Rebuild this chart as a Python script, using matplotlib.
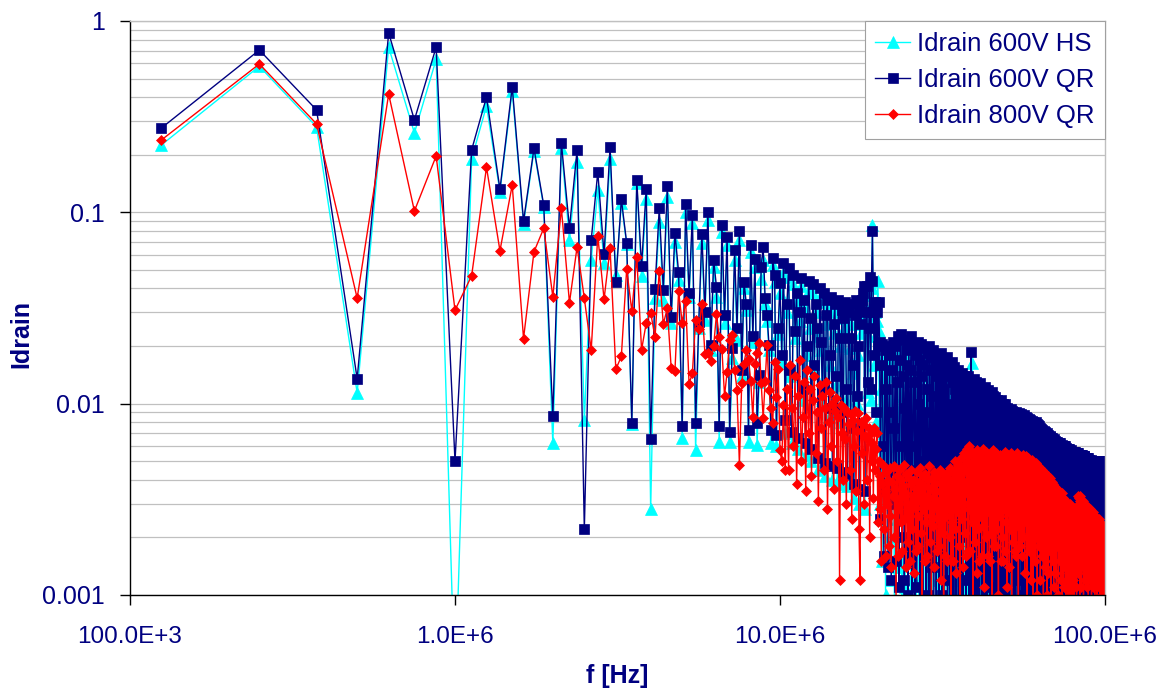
import numpy as np
import matplotlib
matplotlib.use("Agg")
import matplotlib.pyplot as plt
from matplotlib.ticker import FixedLocator, FixedFormatter, LogLocator, NullFormatter, NullLocator

# Drain current spectrum: one value per harmonic of the 125 kHz switching frequency.
FUNDAMENTAL_HZ = 125e3
AMP_UNIT = 1e-4  # the lists below are in units of 0.1 mA

idrain_600v_hs = [
    2250, 5800, 2800, 114, 7300, 2600, 6300, 3, 1900, 3600, 1280, 4300, 870, 2100, 1070, 62, 2170, 717, 1830, 82,
    563, 1310, 545, 1900, 470, 1120, 680, 78, 1420, 464, 1170, 28, 357, 891, 348, 1200, 264, 703, 443, 66,
    1000, 360, 878, 57, 250, 688, 273, 911, 190, 516, 362, 63, 790, 265, 675, 63, 173, 563, 216, 718,
    140, 400, 310, 63, 620, 210, 520, 61, 130, 450, 563, 330, 270, 190, 62, 530, 430, 60, 230, 380,
    165, 480, 70, 300, 460, 140, 62, 420, 220, 345, 58, 270, 410, 105, 320, 54, 180, 395, 250, 50,
    380, 145, 300, 225, 45, 360, 190, 105, 340, 42, 260, 315, 85, 160, 325, 40, 235, 300, 125, 39,
    315, 200, 80, 280, 38, 250, 305, 105, 37, 270, 195, 66, 300, 145, 32, 260, 315, 100, 180, 30,
    290, 235, 310, 340, 370, 28, 270, 370, 115, 225, 410, 105, 400, 860, 270, 160, 300, 80, 270, 440,
    240, 30, 180, 120, 15, 190, 70, 150, 10, 175, 60, 165, 20, 140, 185, 12, 100, 170, 40, 8,
    160, 195, 25, 90, 14, 180, 130, 45, 195, 9, 110, 160, 60, 11, 175, 140, 30, 185, 18, 120,
    200, 7, 90, 160, 40, 12, 175, 110, 190, 6, 130, 55, 180, 9, 150, 185, 20, 100, 8, 170,
    50, 140, 175, 10, 120, 60, 180, 7, 150, 35, 95, 170, 12, 140, 165, 5, 80, 150, 25, 175,
    9, 110, 160, 45, 6, 150, 130, 20, 170, 8, 90, 140, 155, 12, 60, 165, 7, 125, 50, 140,
    30, 150, 8, 95, 130, 18, 145, 5, 110, 60, 140, 10, 150, 85, 25, 135, 6, 120, 145, 12,
    130, 70, 5, 140, 100, 10, 125, 135, 4, 80, 138, 40, 115, 8, 130, 55, 120, 6, 105, 125,
    20, 120, 6, 95, 130, 45, 5, 115, 80, 128, 9, 163, 60, 110, 4, 125, 30, 100, 120, 7,
    115, 85, 12, 110, 120, 5, 70, 112, 25, 105, 6, 118, 90, 40, 110, 8, 95, 115, 15, 105,
    60, 5, 112, 100, 9, 95, 30, 108, 6, 105, 80, 12, 100, 98, 5, 88, 45, 102, 7, 95,
    100, 20, 85, 4, 98, 70, 96, 8, 50, 100, 12, 92, 95, 5, 65, 97, 30, 6, 94, 88,
    10, 80, 92, 4, 60, 95, 22, 90, 7, 85, 93, 40, 6, 90, 75, 88, 15, 86, 5, 70,
    88, 30, 84, 7, 86, 55, 12, 85, 80, 5, 83, 40, 87, 9, 70, 82, 20, 84, 6, 60,
    81, 85, 11, 78, 45, 5, 83, 80, 25, 75, 82, 8, 79, 60, 15, 81, 4, 70, 80, 35,
    6, 78, 80, 12, 65, 79, 5, 75, 40, 78, 9, 80, 72, 20, 77, 6, 62, 76, 30, 74,
    78, 8, 70, 55, 76, 4, 74, 75, 14, 68, 77, 28, 6, 73, 74, 45, 72, 9, 70, 75,
    18, 66, 73, 5, 71, 50, 74, 12, 69, 72, 30, 7, 70, 68, 4, 71, 40, 70, 10, 66,
    70, 22, 68, 60, 5, 69, 67, 14, 66, 8, 68, 45, 67, 6, 64, 66, 28, 67, 9, 62,
    66, 4, 63, 65, 18, 60, 66, 7, 64, 50, 65, 12, 62, 64, 5, 63, 35, 64, 8, 60,
    63, 22, 61, 5, 62, 55, 63, 10, 60, 40, 62, 6, 61, 59, 16, 61, 4, 58, 60, 28,
    60, 8, 59, 52, 61, 5, 58, 60, 13, 57, 44, 59, 6, 58, 20, 59, 56, 9, 58, 36,
    57, 4, 58, 55, 16, 57, 48, 7, 56, 57, 25, 55, 5, 57, 42, 56, 11, 55, 56, 6,
    53, 55, 30, 54, 9, 55, 48, 14, 54, 5, 53, 54, 22, 52, 40, 54, 7, 53, 12, 52,
    53, 35, 4, 52, 50, 18, 53, 8, 51, 52, 44, 6, 52, 26, 51, 5, 50, 51, 13, 51,
    38, 7, 50, 51, 22, 49, 4, 50, 46, 10, 50, 32, 49, 6, 48, 50, 17, 49, 42, 5,
    49, 48, 27, 49, 8, 47, 49, 12, 48, 36, 4, 48, 47, 20, 48, 6, 46, 48, 30, 47,
    9, 47, 42, 5, 47, 46, 15, 47, 7, 45, 47, 25, 46, 4, 46, 38, 10, 46, 45, 6,
    45, 20, 46, 44, 32, 45, 5, 44, 45, 12, 44, 40, 7, 45, 43, 18, 44, 4, 43, 44,
    28, 44, 9, 42, 44, 36, 6, 43, 42, 14, 43, 4, 42, 43, 24, 43, 8, 41, 43, 33,
    5, 42, 42, 11, 42, 38, 6, 41, 42, 19, 42, 4, 40, 42, 28, 41, 7, 41, 42, 13,
    41, 36, 5, 41, 40, 22, 41, 8, 40, 41, 31, 4, 40, 40, 15, 41, 6, 39, 40, 26,
    40, 9, 39, 40, 34, 5, 40, 38, 18, 40, 6, 39, 39, 28, 40, 4, 38, 39, 12, 39,
]

idrain_600v_qr = [
    2760, 7050, 3430, 135, 8660, 3040, 7300, 50, 2120, 4000, 1320, 4520, 900, 2160, 1090, 86, 2300, 828, 2120, 22,
    717, 1625, 605, 2190, 432, 1170, 690, 79, 1470, 524, 1320, 65, 397, 1050, 394, 1370, 285, 780, 487, 76,
    1100, 378, 968, 79, 268, 770, 300, 1007, 202, 563, 408, 76, 859, 290, 740, 71, 195, 635, 248, 801,
    150, 434, 332, 73, 675, 226, 570, 79, 141, 520, 660, 355, 290, 202, 73, 574, 470, 69, 250, 428,
    180, 543, 82, 330, 510, 150, 71, 470, 240, 380, 66, 300, 455, 120, 350, 62, 200, 440, 280, 58,
    420, 160, 330, 250, 52, 400, 210, 120, 380, 49, 290, 350, 95, 180, 360, 47, 260, 330, 140, 46,
    350, 220, 90, 310, 44, 280, 340, 120, 43, 300, 220, 75, 330, 160, 38, 290, 350, 110, 200, 36,
    320, 260, 350, 380, 410, 35, 300, 410, 130, 250, 460, 120, 440, 800, 300, 180, 340, 90, 300, 200,
    340, 210, 25, 160, 205, 60, 16, 190, 120, 35, 200, 14, 90, 180, 45, 12, 150, 210, 30, 75,
    200, 15, 130, 225, 40, 11, 170, 230, 60, 20, 140, 215, 12, 95, 190, 28, 160, 10, 205, 80,
    18, 150, 225, 9, 60, 200, 130, 8, 180, 45, 11, 210, 100, 25, 170, 7, 140, 205, 50, 9,
    160, 195, 22, 90, 8, 185, 120, 35, 10, 200, 150, 6, 70, 175, 14, 110, 190, 9, 40, 160,
    180, 7, 85, 140, 18, 175, 8, 60, 150, 30, 185, 10, 120, 165, 6, 45, 170, 95, 12, 150,
    175, 8, 55, 140, 160, 7, 100, 25, 150, 165, 9, 70, 130, 5, 155, 40, 120, 8, 145, 90,
    15, 150, 6, 110, 140, 30, 7, 135, 60, 145, 9, 100, 4, 140, 120, 20, 50, 138, 6, 130,
    85, 12, 140, 35, 8, 125, 100, 5, 110, 186, 45, 7, 130, 75, 10, 120, 135, 6, 90, 130,
    9, 55, 125, 100, 6, 120, 30, 115, 8, 128, 80, 14, 120, 5, 95, 118, 40, 9, 115, 70,
    122, 7, 60, 110, 20, 105, 6, 118, 85, 11, 100, 112, 4, 50, 108, 90, 8, 115, 35, 104,
    7, 75, 110, 15, 95, 5, 108, 60, 100, 9, 104, 45, 6, 98, 80, 102, 12, 55, 100, 7,
    90, 104, 25, 8, 96, 70, 100, 5, 85, 98, 18, 60, 95, 6, 100, 40, 92, 9, 80, 95,
    8, 90, 60, 93, 6, 75, 91, 14, 50, 94, 85, 7, 88, 40, 92, 5, 70, 90, 22, 86,
    9, 89, 55, 80, 6, 91, 65, 12, 88, 35, 84, 7, 60, 89, 5, 78, 86, 18, 45, 88,
    82, 8, 70, 86, 10, 55, 84, 6, 80, 87, 30, 7, 83, 68, 4, 85, 50, 80, 9, 84,
    62, 15, 81, 6, 75, 83, 25, 80, 8, 78, 82, 40, 5, 80, 66, 11, 79, 81, 7, 58,
    80, 20, 78, 6, 72, 79, 35, 9, 77, 60, 80, 5, 70, 78, 16, 50, 77, 8, 74, 76,
    12, 74, 45, 6, 75, 68, 9, 72, 30, 74, 5, 62, 73, 14, 70, 55, 7, 72, 66, 22,
    70, 6, 48, 71, 60, 9, 69, 38, 70, 5, 64, 68, 15, 55, 69, 8, 67, 60, 26, 68,
    6, 50, 67, 63, 10, 66, 42, 7, 65, 66, 18, 60, 5, 64, 55, 30, 65, 8, 58, 64,
    12, 62, 45, 6, 63, 60, 20, 62, 9, 50, 63, 35, 61, 5, 58, 62, 14, 55, 61, 7,
    60, 40, 62, 10, 52, 60, 25, 59, 6, 61, 48, 16, 60, 57, 8, 59, 33, 60, 5, 55,
    60, 20, 58, 7, 52, 59, 38, 10, 58, 55, 5, 57, 45, 58, 15, 56, 8, 50, 58, 28,
    57, 6, 54, 56, 12, 42, 57, 9, 55, 56, 22, 52, 5, 56, 48, 56, 11, 55, 35, 7,
    56, 53, 18, 55, 6, 50, 56, 30, 54, 9, 55, 46, 14, 55, 5, 52, 55, 25, 53, 8,
    54, 40, 55, 12, 52, 6, 54, 50, 20, 54, 7, 48, 54, 33, 52, 10, 53, 45, 5, 54,
    51, 16, 53, 38, 8, 52, 53, 24, 50, 6, 53, 44, 52, 11, 51, 30, 52, 7, 50, 52,
    18, 52, 42, 6, 51, 50, 28, 52, 9, 48, 51, 14, 50, 36, 5, 51, 46, 22, 50, 8,
    49, 51, 32, 50, 6, 47, 50, 12, 49, 40, 50, 7, 48, 50, 20, 49, 44, 5, 50, 30,
    48, 9, 50, 46, 15, 49, 38, 6, 50, 48, 25, 49, 8, 46, 50, 34, 48, 11, 50, 43,
    5, 49, 47, 18, 50, 40, 7, 49, 48, 28, 50, 10, 46, 49, 35, 6, 50, 44, 16, 49,
    48, 8, 47, 50, 30, 49, 12, 45, 50, 42, 5, 49, 47, 22, 50, 38, 9, 48, 50, 46,
]

idrain_800v_qr = [
    2390, 5960, 2900, 356, 4150, 1016, 1970, 308, 466, 1720, 630, 1390, 219, 622, 825, 362, 1050, 337, 660, 355,
    191, 755, 351, 648, 151, 177, 506, 305, 582, 191, 263, 299, 222, 495, 260, 316, 154, 148, 388, 265,
    345, 127, 144, 274, 245, 331, 182, 185, 167, 200, 294, 224, 194, 110, 146, 215, 228, 150, 118, 48,
    129, 162, 190, 172, 132, 85, 162, 184, 207, 129, 84, 132, 202, 118, 95, 79, 166, 109, 152, 57,
    50, 98, 45, 120, 45, 160, 95, 60, 140, 38, 110, 170, 50, 85, 130, 35, 150, 70, 120, 42,
    105, 140, 55, 90, 31, 125, 75, 110, 45, 95, 130, 28, 80, 115, 60, 100, 36, 92, 107, 50,
    85, 12, 98, 70, 40, 95, 65, 30, 90, 78, 45, 88, 25, 82, 60, 92, 35, 72, 89, 22,
    12, 80, 55, 78, 30, 68, 84, 40, 65, 75, 20, 70, 50, 62, 32, 75, 45, 58, 70, 24,
    50, 28, 42, 15, 38, 48, 22, 35, 16, 44, 30, 40, 18, 46, 26, 14, 39, 33, 47, 20,
    36, 9, 42, 28, 16, 45, 32, 24, 40, 17, 37, 48, 25, 34, 14, 43, 30, 19, 41, 27,
    15, 38, 45, 22, 33, 13, 40, 29, 36, 17, 44, 26, 18, 39, 31, 46, 21, 35, 6, 42,
    28, 37, 15, 43, 24, 33, 16, 40, 30, 47, 19, 36, 26, 8, 41, 32, 23, 44, 14, 38,
    29, 35, 17, 42, 25, 31, 18, 45, 27, 12, 39, 34, 21, 43, 7, 37, 30, 16, 41, 26,
    35, 15, 44, 28, 38, 20, 46, 32, 9, 40, 24, 36, 15, 43, 29, 50, 22, 39, 13, 45,
    31, 27, 48, 18, 37, 6, 42, 33, 52, 25, 40, 14, 46, 30, 55, 21, 38, 16, 49, 58,
    34, 44, 17, 53, 28, 60, 39, 17, 47, 31, 56, 24, 42, 8, 50, 36, 45, 19, 54, 29,
    41, 13, 57, 33, 48, 22, 44, 15, 52, 37, 26, 55, 40, 16, 49, 32, 58, 23, 43, 11,
    51, 35, 46, 20, 56, 30, 42, 16, 53, 38, 27, 47, 15, 54, 34, 44, 21, 50, 6, 41,
    57, 31, 45, 18, 52, 36, 25, 48, 18, 55, 39, 43, 22, 51, 33, 10, 46, 37, 54, 26,
    42, 15, 49, 35, 53, 20, 44, 15, 50, 38, 28, 47, 33, 56, 17, 41, 52, 24, 45, 11,
    49, 36, 54, 27, 43, 14, 51, 39, 22, 47, 55, 31, 9, 44, 50, 34, 19, 53, 40, 26,
    48, 17, 45, 52, 30, 38, 16, 50, 42, 55, 23, 46, 7, 41, 53, 33, 49, 18, 44, 37,
    52, 25, 47, 16, 40, 54, 29, 45, 20, 50, 35, 43, 13, 51, 32, 46, 24, 53, 39, 9,
    48, 41, 27, 52, 34, 44, 17, 50, 37, 21, 47, 42, 12, 49, 30, 45, 26, 51, 36, 8,
    43, 48, 23, 40, 33, 46, 15, 44, 38, 49, 20, 41, 28, 45, 10, 39, 47, 31, 42, 18,
    44, 35, 40, 24, 46, 12, 38, 43, 29, 41, 16, 45, 34, 39, 21, 42, 7, 37, 44, 27,
    40, 32, 14, 43, 36, 38, 19, 41, 30, 10, 39, 35, 42, 24, 37, 13, 40, 33, 28, 38,
    17, 36, 41, 26, 34, 8, 37, 31, 39, 22, 35, 15, 38, 29, 33, 11, 36, 27, 37, 20,
    32, 34, 13, 35, 25, 30, 7, 33, 28, 36, 18, 31, 23, 34, 10, 29, 32, 21, 35, 15,
    30, 26, 33, 12, 28, 31, 19, 34, 24, 8, 29, 32, 16, 30, 22, 27, 11, 31, 25, 29,
    14, 28, 30, 20, 26, 9, 29, 23, 31, 17, 27, 12, 30, 24, 28, 6, 25, 29, 19, 27,
    13, 26, 22, 30, 10, 28, 18, 25, 27, 15, 24, 29, 8, 26, 21, 28, 12, 25, 23, 27,
    16, 24, 7, 26, 20, 28, 14, 23, 25, 11, 26, 19, 24, 9, 27, 22, 17, 25, 13, 24,
    28, 33, 14, 30, 24, 32, 19, 29, 8, 31, 26, 33, 16, 30, 22, 28, 11, 31, 25, 29,
    18, 30, 14, 28, 23, 31, 9, 27, 29, 21, 30, 17, 28, 25, 12, 29, 22, 27, 16, 28,
    24, 29, 11, 26, 20, 28, 15, 27, 23, 29, 8, 26, 19, 28, 21, 13, 27, 24, 17, 28,
    12, 26, 23, 27, 16, 25, 9, 27, 20, 26, 14, 25, 22, 27, 11, 24, 26, 17, 25, 13,
    26, 20, 24, 8, 25, 19, 26, 15, 24, 22, 12, 25, 18, 24, 21, 9, 25, 16, 23, 24,
    13, 23, 20, 25, 11, 22, 24, 16, 23, 15, 22, 8, 24, 18, 23, 12, 22, 20, 23, 14,
    20, 22, 10, 23, 17, 21, 15, 22, 12, 20, 21, 11, 22, 17, 19, 14, 21, 10, 18, 16,
]

series_labels = ["Idrain 600V HS", "Idrain 600V QR", "Idrain 800V QR"]
x_ticks = [1e5, 1e6, 1e7, 1e8]
x_tick_labels = ["100.0E+3", "1.0E+6", "10.0E+6", "100.0E+6"]
y_ticks = [0.001, 0.01, 0.1, 1]
y_tick_labels = ["0.001", "0.01", "0.1", "1"]

assert len(idrain_600v_hs) == len(idrain_600v_qr) == len(idrain_800v_qr) == 800

harmonics = np.arange(1, len(idrain_600v_qr) + 1)
freq_hz = harmonics * FUNDAMENTAL_HZ

NAVY = "#000080"
plt.rcParams["font.family"] = ["Liberation Sans", "DejaVu Sans"]

fig = plt.figure(figsize=(11.68, 6.89), dpi=100)
ax = fig.add_axes([130 / 1168, 94 / 689, 975 / 1168, 574 / 689])

styles = [
    dict(color="#00FFFF", marker="^", ms=8.2),
    dict(color=NAVY, marker="s", ms=6.8),
    dict(color="#FF0000", marker="D", ms=5.6),
]
for values, label, st in zip([idrain_600v_hs, idrain_600v_qr, idrain_800v_qr], series_labels, styles):
    ax.plot(freq_hz, np.asarray(values) * AMP_UNIT, color=st["color"], marker=st["marker"],
            ms=st["ms"], mfc=st["color"], mec=st["color"], mew=0.5, lw=1.0, label=label)

ax.set_xscale("log")
ax.set_yscale("log")
ax.set_xlim(1e5, 1e8)
ax.set_ylim(1e-3, 1)

ax.xaxis.set_major_locator(FixedLocator(x_ticks))
ax.xaxis.set_major_formatter(FixedFormatter(x_tick_labels))
ax.xaxis.set_minor_locator(NullLocator())
ax.yaxis.set_major_locator(FixedLocator(y_ticks))
ax.yaxis.set_major_formatter(FixedFormatter(y_tick_labels))
ax.yaxis.set_minor_locator(LogLocator(base=10, subs=np.arange(2, 10)))
ax.yaxis.set_minor_formatter(NullFormatter())

ax.set_axisbelow(True)
ax.yaxis.grid(True, which="both", color="#C0C0C0", lw=0.9)
ax.xaxis.grid(False)

ax.tick_params(axis="both", which="major", direction="out", length=7, width=1,
               color="black", labelcolor=NAVY, labelsize=17.5)
ax.tick_params(axis="y", which="major", pad=11, labelsize=18)
ax.tick_params(axis="x", which="major", pad=15)
ax.tick_params(axis="y", which="minor", length=0)

for side in ("left", "bottom"):
    ax.spines[side].set_color("black")
    ax.spines[side].set_linewidth(1)
for side in ("top", "right"):
    ax.spines[side].set_color("#C0C0C0")
    ax.spines[side].set_linewidth(1)

ax.set_xlabel("f [Hz]", fontsize=18, fontweight="bold", color=NAVY)
ax.xaxis.label.set_va("center")
ax.xaxis.set_label_coords(0.5, (595 - 676) / 574)
ax.set_ylabel("Idrain", fontsize=18, fontweight="bold", color=NAVY)
ax.yaxis.label.set_va("center")
ax.yaxis.set_label_coords((21 - 130) / 975, (595 - 334) / 574)

leg = ax.legend(loc="upper right", bbox_to_anchor=(1, 1), borderaxespad=0, fontsize=18.5,
                frameon=True, fancybox=False, edgecolor="#A0A0A0", framealpha=1,
                handlelength=1.36, handletextpad=0.25, borderpad=0.42, labelspacing=0.47)
leg.get_frame().set_linewidth(0.8)
for t in leg.get_texts():
    t.set_color(NAVY)

fig.savefig("out.png", dpi=100)
